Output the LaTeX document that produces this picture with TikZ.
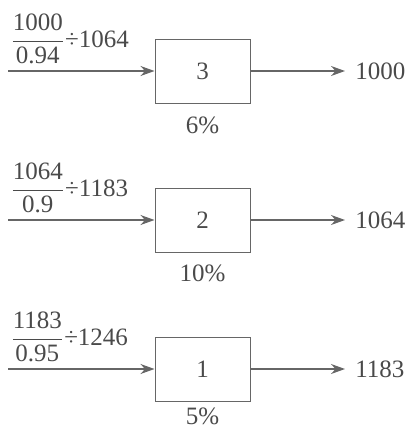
\documentclass[tikz,border=0pt]{standalone}
\usepackage{amsmath}
\usepackage[no-math]{fontspec}
\setmainfont{Liberation Serif}
\usetikzlibrary{arrows.meta}

\definecolor{inkgray}{HTML}{4A4A4A}
\definecolor{linegray}{HTML}{666666}

\newcommand{\ratiolabel}[3]{$\dfrac{\text{#1}}{\text{#2}}$÷#3}

\begin{document}
\begin{tikzpicture}[x = 0.5pt, y = -0.5pt, every node/.style={text = inkgray, font = \fontsize{12.5}{14}\selectfont}, stagebox/.style={draw = linegray, line width = 0.5pt, minimum width = 47.5pt, minimum height = 32pt, inner sep = 0pt}, flow/.style={draw = linegray, line width = 0.7pt, -{Stealth[length = 7pt, width = 5pt]}}, tag/.style={anchor = west, inner sep = 0pt}]

  \useasboundingbox (0, 0) rectangle (407, 428);

  % stage 3
  \node[stagebox] (box3) at (202.5, 71) {3};
  \coordinate (src3) at (8, 71);
  \node[tag] (calc3) at (10, 39) {\ratiolabel{1000}{0.94}{1064}};
  \node[tag] (out3) at (355, 71) {1000};
  \node (rate3) at (202.5, 125) {6\%};
  \draw[flow] (src3) -- (box3.west);
  \draw[flow] (box3.east) -- ([xshift = -5pt]out3.west);

  % stage 2
  \node[stagebox] (box2) at (202.5, 220) {2};
  \coordinate (src2) at (8, 220);
  \node[tag] (calc2) at (10, 188) {\ratiolabel{1064}{0.9}{1183}};
  \node[tag] (out2) at (355, 220) {1064};
  \node (rate2) at (202.5, 273) {10\%};
  \draw[flow] (src2) -- (box2.west);
  \draw[flow] (box2.east) -- ([xshift = -5pt]out2.west);

  % stage 1
  \node[stagebox] (box1) at (202.5, 369) {1};
  \coordinate (src1) at (8, 369);
  \node[tag] (calc1) at (10, 337) {\ratiolabel{1183}{0.95}{1246}};
  \node[tag] (out1) at (355, 369) {1183};
  \node (rate1) at (202.5, 416) {5\%};
  \draw[flow] (src1) -- (box1.west);
  \draw[flow] (box1.east) -- ([xshift = -5pt]out1.west);

\end{tikzpicture}
\end{document}
